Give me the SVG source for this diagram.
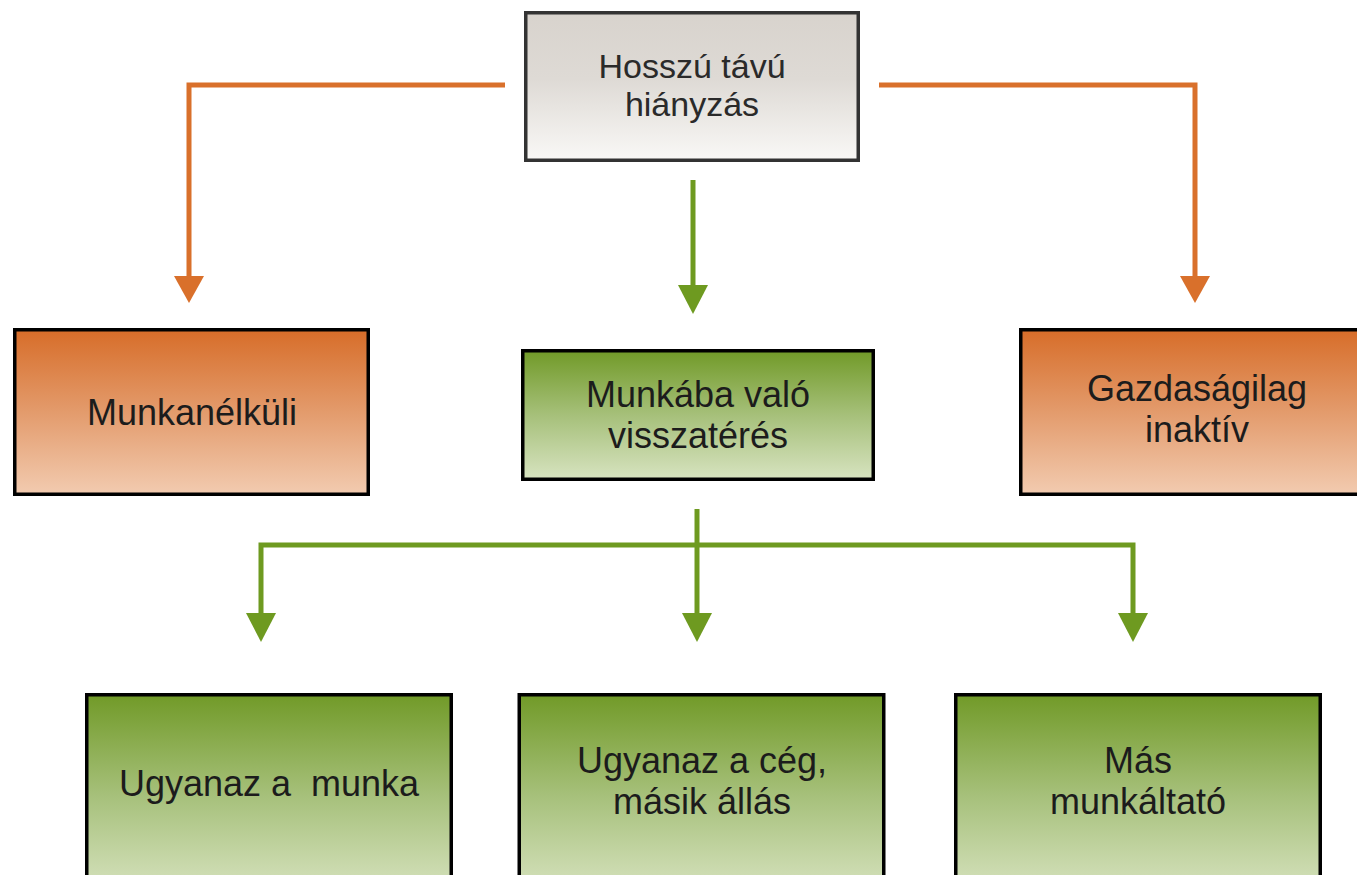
<svg xmlns="http://www.w3.org/2000/svg" width="1357" height="875" viewBox="0 0 1357 875">
<defs>
<linearGradient id="gGray" x1="0" y1="0" x2="0" y2="1">
<stop offset="0" stop-color="#d8d3cd"/><stop offset="0.45" stop-color="#dedad5"/><stop offset="1" stop-color="#f9f8f6"/>
</linearGradient>
<linearGradient id="gOrange" x1="0" y1="0" x2="0" y2="1">
<stop offset="0" stop-color="#d76d29"/><stop offset="0.5" stop-color="#e39b6c"/><stop offset="1" stop-color="#f2cbb0"/>
</linearGradient>
<linearGradient id="gGreen" x1="0" y1="0" x2="0" y2="1">
<stop offset="0" stop-color="#719a28"/><stop offset="0.5" stop-color="#a6c07a"/><stop offset="1" stop-color="#d7e3c0"/>
</linearGradient>
<marker id="arrO" markerUnits="userSpaceOnUse" markerWidth="27" markerHeight="30" viewBox="0 -15 27 30" refX="0" refY="0" orient="auto" overflow="visible">
<path d="M0,-15 L27,0 L0,15 z" fill="#d9702b"/>
</marker>
<marker id="arrG" markerUnits="userSpaceOnUse" markerWidth="29" markerHeight="30" viewBox="0 -15 29 30" refX="0" refY="0" orient="auto" overflow="visible">
<path d="M0,-15 L29,0 L0,15 z" fill="#6e9a20"/>
</marker>
</defs>
<style>
.box{stroke:#000;stroke-width:3.5}
.gray{fill:url(#gGray);stroke:#333;stroke-width:3.5}
.orange{fill:url(#gOrange)}
.green{fill:url(#gGreen)}
.t{font-family:"Liberation Sans",Arial,sans-serif;font-size:36px;fill:#1c1c1c;text-anchor:middle}
.tt{font-size:34px;fill:#2a2a2a}
.co{fill:none;stroke:#d9702b;stroke-width:5}
.cg{fill:none;stroke:#6e9a20;stroke-width:5}
</style>
<rect width="1357" height="875" fill="#fff"/>
<g id="connectors">
<path class="co" d="M505,85 H189 V276" marker-end="url(#arrO)"/>
<path class="co" d="M879,85 H1195 V276" marker-end="url(#arrO)"/>
<path class="cg" d="M693,180 V285" marker-end="url(#arrG)"/>
<path class="cg" d="M697,509 V613" marker-end="url(#arrG)"/>
<path class="cg" d="M697,545 H261 V613" marker-end="url(#arrG)"/>
<path class="cg" d="M697,545 H1133 V613" marker-end="url(#arrG)"/>
</g>
<g id="node-hosszu">
<rect class="gray" x="525.75" y="12.75" width="332.5" height="147.5"/>
<text class="t tt" x="692" y="78">Hosszú távú</text>
<text class="t tt" x="692" y="116">hiányzás</text>
</g>
<g id="node-munkanelkuli">
<rect class="box orange" x="14.75" y="329.75" width="353.5" height="164.5"/>
<text class="t" x="192" y="425">Munkanélküli</text>
</g>
<g id="node-visszateres">
<rect class="box green" x="522.75" y="350.75" width="350.5" height="128.5"/>
<text class="t" x="698" y="407">Munkába való</text>
<text class="t" x="698" y="448">visszatérés</text>
</g>
<g id="node-inaktiv">
<rect class="box orange" x="1020.75" y="329.75" width="353.5" height="164.5"/>
<text class="t" x="1197" y="401">Gazdaságilag</text>
<text class="t" x="1197" y="442">inaktív</text>
</g>
<g id="node-ugyanaz-munka">
<rect class="box green" x="86.75" y="694.75" width="364.5" height="200"/>
<text class="t" x="269" y="796" xml:space="preserve">Ugyanaz a  munka</text>
</g>
<g id="node-ugyanaz-ceg">
<rect class="box green" x="519.25" y="694.75" width="364.5" height="200"/>
<text class="t" x="702" y="773">Ugyanaz a cég,</text>
<text class="t" x="702" y="814">másik állás</text>
</g>
<g id="node-mas">
<rect class="box green" x="955.75" y="694.75" width="364.5" height="200"/>
<text class="t" x="1138" y="773">Más</text>
<text class="t" x="1138" y="814">munkáltató</text>
</g>
</svg>
